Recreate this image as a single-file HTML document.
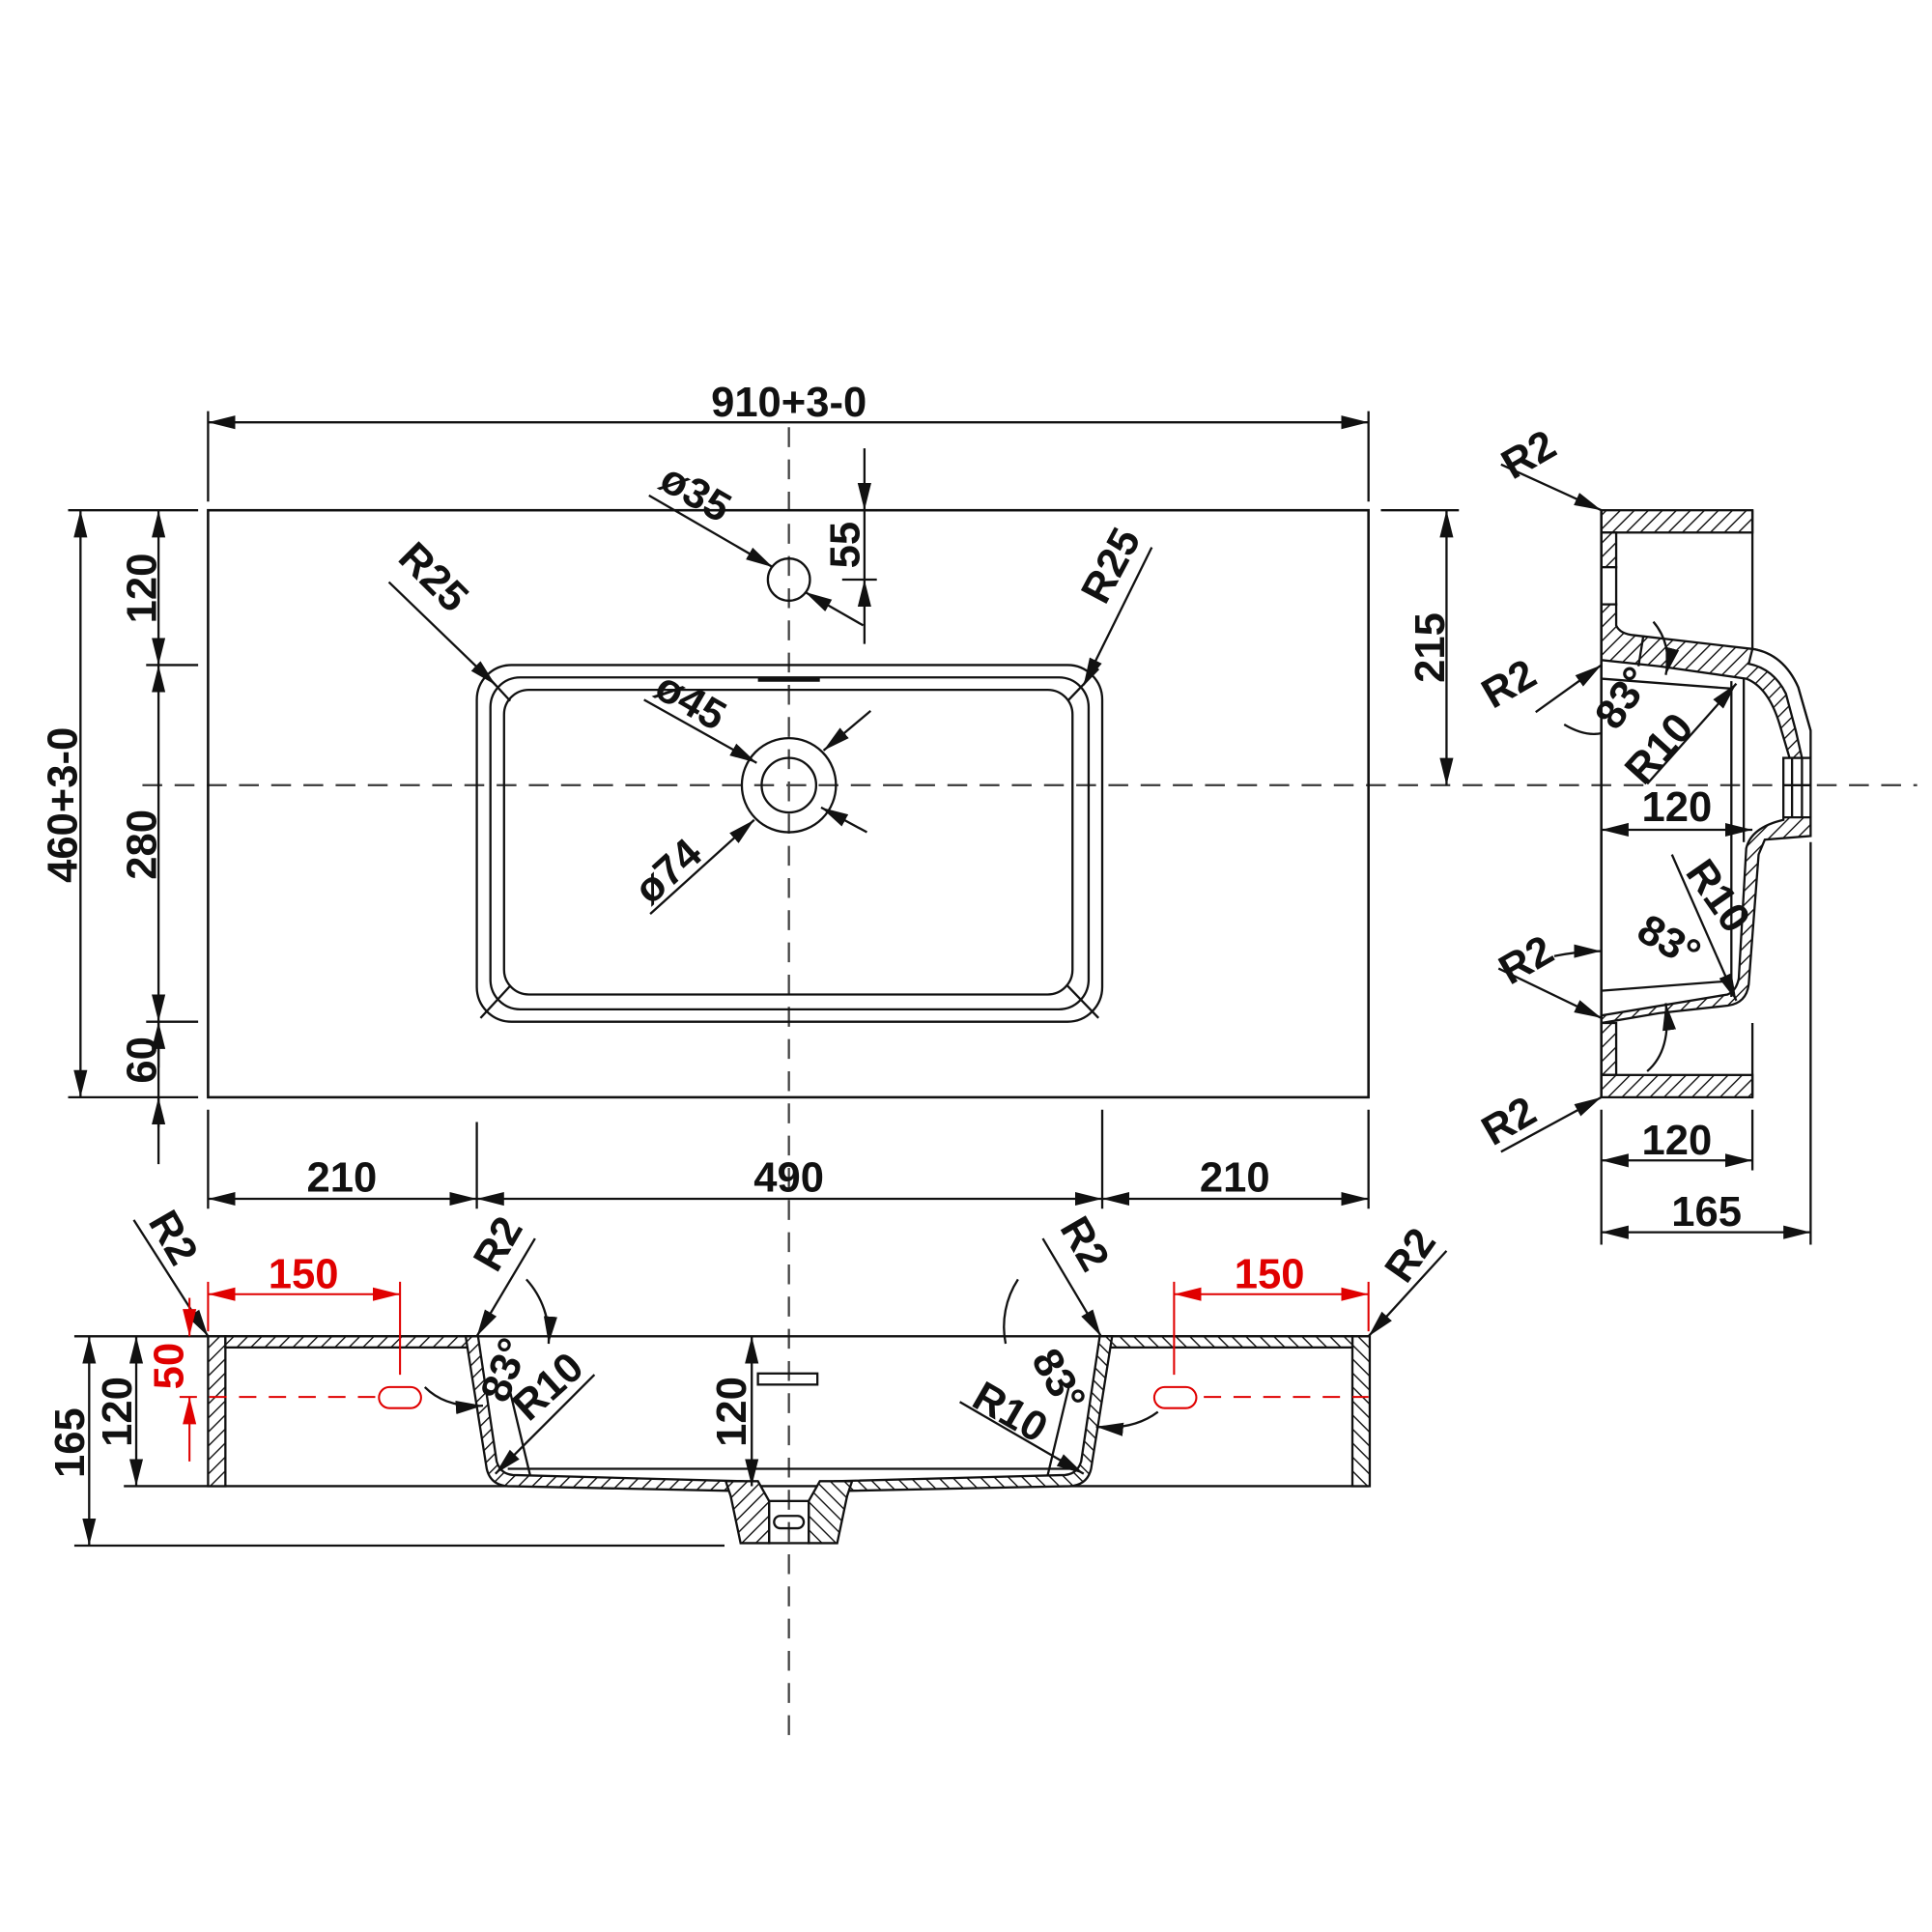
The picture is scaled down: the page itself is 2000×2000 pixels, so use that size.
<!DOCTYPE html>
<html><head><meta charset="utf-8"><style>
html,body{margin:0;padding:0;background:#fff;}
svg{display:block;}
text{font-family:"Liberation Sans Narrow","Liberation Sans",sans-serif;font-weight:bold;font-size:34px;fill:#111;}
.r{fill:#e00000;}
</style></head><body>
<svg width="2000" height="2000" viewBox="0 0 1560 1560" xmlns="http://www.w3.org/2000/svg">
<defs>
<pattern id="h" width="8" height="8" patternUnits="userSpaceOnUse" patternTransform="rotate(45)">
<rect width="8" height="8" fill="#fff"/><line x1="0" y1="0" x2="0" y2="8" stroke="#111" stroke-width="2.2"/></pattern>
<marker id="a" viewBox="0 0 10 10" refX="10" refY="5" markerWidth="22" markerHeight="22" markerUnits="userSpaceOnUse" orient="auto-start-reverse"><path d="M0,2.5 L10,5 L0,7.5z" fill="#111"/></marker>
<marker id="ar" viewBox="0 0 10 10" refX="10" refY="5" markerWidth="22" markerHeight="22" markerUnits="userSpaceOnUse" orient="auto-start-reverse"><path d="M0,2.5 L10,5 L0,7.5z" fill="#e00000"/></marker>
</defs>
<g stroke="#111" stroke-width="1.8" fill="none">
<line x1="637" y1="345" x2="637" y2="1405" stroke-dasharray="16,10" stroke="#444"/>
<line x1="115" y1="634" x2="1548" y2="634" stroke-dasharray="16,10" stroke="#444"/>
<rect x="168" y="412" width="937" height="474" stroke-width="2"/>
<rect x="385" y="537" width="505" height="288" rx="28"/>
<rect x="396" y="547" width="483" height="268" rx="24"/>
<rect x="407" y="557" width="459" height="246" rx="20"/>
<line x1="612" y1="549" x2="662" y2="549" stroke-width="3"/>
<line x1="388" y1="540" x2="412" y2="566"/><line x1="887" y1="540" x2="862" y2="566"/>
<line x1="388" y1="822" x2="412" y2="796"/><line x1="887" y1="822" x2="862" y2="796"/>
<circle cx="637" cy="468" r="17"/>
<circle cx="637" cy="634" r="38"/><circle cx="637" cy="634" r="22"/>
<line x1="168" y1="332" x2="168" y2="405"/><line x1="1105" y1="332" x2="1105" y2="405"/>
<line x1="168" y1="341" x2="1105" y2="341" marker-start="url(#a)" marker-end="url(#a)"/>
<line x1="55" y1="412" x2="160" y2="412"/><line x1="55" y1="886" x2="160" y2="886"/>
<line x1="118" y1="537" x2="160" y2="537"/><line x1="118" y1="825" x2="160" y2="825"/>
<line x1="65" y1="412" x2="65" y2="886" marker-start="url(#a)" marker-end="url(#a)"/>
<line x1="128" y1="412" x2="128" y2="537" marker-start="url(#a)" marker-end="url(#a)"/>
<line x1="128" y1="537" x2="128" y2="825" marker-start="url(#a)" marker-end="url(#a)"/>
<line x1="128" y1="825" x2="128" y2="940"/>
<line x1="128" y1="862" x2="128" y2="825" marker-end="url(#a)"/>
<line x1="128" y1="910" x2="128" y2="886" marker-end="url(#a)"/>
<line x1="1115" y1="412" x2="1178" y2="412"/>
<line x1="1168" y1="412" x2="1168" y2="634" marker-start="url(#a)" marker-end="url(#a)"/>
<line x1="645" y1="412" x2="708" y2="412"/><line x1="680" y1="468" x2="708" y2="468"/>
<line x1="698" y1="362" x2="698" y2="412" marker-end="url(#a)"/>
<line x1="698" y1="520" x2="698" y2="468" marker-end="url(#a)"/>
<line x1="698" y1="412" x2="698" y2="468"/>
<line x1="524" y1="400" x2="624" y2="458" marker-end="url(#a)"/>
<line x1="650" y1="478" x2="697" y2="505" marker-start="url(#a)"/>
<line x1="314" y1="470" x2="400" y2="553" marker-end="url(#a)"/>
<line x1="930" y1="442" x2="875" y2="553" marker-end="url(#a)"/>
<line x1="520" y1="565" x2="611" y2="616" marker-end="url(#a)"/>
<line x1="663" y1="652" x2="700" y2="672" marker-start="url(#a)"/>
<line x1="525" y1="738" x2="609" y2="662" marker-end="url(#a)"/>
<line x1="665" y1="606" x2="703" y2="574" marker-start="url(#a)"/>
<line x1="168" y1="896" x2="168" y2="976"/><line x1="385" y1="906" x2="385" y2="976"/>
<line x1="890" y1="896" x2="890" y2="976"/><line x1="1105" y1="896" x2="1105" y2="976"/>
<line x1="168" y1="968" x2="385" y2="968" marker-start="url(#a)" marker-end="url(#a)"/>
<line x1="385" y1="968" x2="890" y2="968" marker-start="url(#a)" marker-end="url(#a)"/>
<line x1="890" y1="968" x2="1105" y2="968" marker-start="url(#a)" marker-end="url(#a)"/>
</g>
<g>
<text x="637" y="336" text-anchor="middle">910+3-0</text>
<text transform="translate(62,650) rotate(-90)" text-anchor="middle">460+3-0</text>
<text transform="translate(126,475) rotate(-90)" text-anchor="middle">120</text>
<text transform="translate(126,682) rotate(-90)" text-anchor="middle">280</text>
<text transform="translate(126,856) rotate(-90)" text-anchor="middle">60</text>
<text transform="translate(1166,523) rotate(-90)" text-anchor="middle">215</text>
<text transform="translate(694,440) rotate(-90)" text-anchor="middle">55</text>
<text transform="translate(556,408) rotate(30)" text-anchor="middle">ø35</text>
<text transform="translate(342,474) rotate(45)" text-anchor="middle">R25</text>
<text transform="translate(907,462) rotate(-62)" text-anchor="middle">R25</text>
<text transform="translate(552,576) rotate(30)" text-anchor="middle">ø45</text>
<text transform="translate(547,712) rotate(-42)" text-anchor="middle">ø74</text>
<text x="276" y="962" text-anchor="middle">210</text>
<text x="637" y="962" text-anchor="middle">490</text>
<text x="997" y="962" text-anchor="middle">210</text>
</g>

<g stroke="#111" stroke-width="1.8">
<line x1="60" y1="1079" x2="1105" y2="1079" fill="none"/>
<line x1="100" y1="1200" x2="1105" y2="1200" fill="none"/>
<line x1="60" y1="1248" x2="585" y2="1248" fill="none"/>
<g id="half">
<rect x="168" y="1079" width="14" height="121" fill="url(#h)"/>
<rect x="182" y="1079" width="201" height="9" fill="url(#h)"/>
<path d="M376,1079 L386,1079 L401,1180 Q404,1190 414,1191 L600,1196 L600,1204 L410,1200 Q396,1199 393,1186 Z" fill="url(#h)"/>
<path d="M586,1196 L612,1196 L621,1212 L621,1246 L598,1246 L590,1208 Z" fill="url(#h)"/>
<line x1="411" y1="1120" x2="428" y2="1191" fill="none"/>
<line x1="410" y1="1186" x2="637" y2="1186" fill="none"/>
</g>
<use href="#half" transform="translate(1274,0) scale(-1,1)"/>
<rect x="621" y="1212" width="32" height="34" fill="none"/>
<rect x="625" y="1224" width="24" height="10" rx="5" fill="none"/>
<rect x="612" y="1109" width="48" height="9" fill="none"/>
<g fill="none">
<line x1="72" y1="1079" x2="72" y2="1248" marker-start="url(#a)" marker-end="url(#a)"/>
<line x1="110" y1="1079" x2="110" y2="1200" marker-start="url(#a)" marker-end="url(#a)"/>
<line x1="607" y1="1079" x2="607" y2="1200" marker-start="url(#a)" marker-end="url(#a)"/>
<line x1="108" y1="985" x2="168" y2="1079" marker-end="url(#a)"/>
<line x1="432" y1="1000" x2="385" y2="1079" marker-end="url(#a)"/>
<line x1="842" y1="1000" x2="889" y2="1079" marker-end="url(#a)"/>
<line x1="1168" y1="1010" x2="1105" y2="1079" marker-end="url(#a)"/>
<path d="M425,1033 A70,70 0 0 1 443,1085" marker-end="url(#a)"/>
<path d="M343,1120 Q360,1137 390,1135" marker-end="url(#a)"/>
<path d="M822,1033 A70,70 0 0 0 812,1085"/>
<path d="M935,1140 Q915,1155 885,1152" marker-end="url(#a)"/>
<line x1="480" y1="1110" x2="400" y2="1190" marker-end="url(#a)"/>
<line x1="775" y1="1132" x2="875" y2="1190" marker-end="url(#a)"/>
</g>
</g>
<g stroke="#e00000" stroke-width="1.6" fill="none">
<line x1="168" y1="1035" x2="168" y2="1075"/><line x1="323" y1="1035" x2="323" y2="1110"/>
<line x1="168" y1="1045" x2="323" y2="1045" marker-start="url(#ar)" marker-end="url(#ar)"/>
<line x1="948" y1="1035" x2="948" y2="1110"/><line x1="1105" y1="1035" x2="1105" y2="1075"/>
<line x1="948" y1="1045" x2="1105" y2="1045" marker-start="url(#ar)" marker-end="url(#ar)"/>
<line x1="145" y1="1128" x2="323" y2="1128" stroke-dasharray="14,10"/>
<line x1="948" y1="1128" x2="1105" y2="1128" stroke-dasharray="14,10"/>
<rect x="306" y="1120" width="34" height="17" rx="8.5" fill="#fff"/>
<rect x="932" y="1120" width="34" height="17" rx="8.5" fill="#fff"/>
<line x1="153" y1="1048" x2="153" y2="1079" marker-end="url(#ar)"/>
<line x1="153" y1="1180" x2="153" y2="1128" marker-end="url(#ar)"/>
</g>
<g>
<text class="r" x="245" y="1040" text-anchor="middle">150</text>
<text class="r" x="1025" y="1040" text-anchor="middle">150</text>
<text class="r" transform="translate(148,1103) rotate(-90)" text-anchor="middle">50</text>
<text transform="translate(68,1165) rotate(-90)" text-anchor="middle">165</text>
<text transform="translate(106,1140) rotate(-90)" text-anchor="middle">120</text>
<text transform="translate(602,1140) rotate(-90)" text-anchor="middle">120</text>
<text transform="translate(130,1005) rotate(60)" text-anchor="middle">R2</text>
<text transform="translate(412,1010) rotate(-60)" text-anchor="middle">R2</text>
<text transform="translate(866,1010) rotate(60)" text-anchor="middle">R2</text>
<text transform="translate(1148,1020) rotate(-55)" text-anchor="middle">R2</text>
<text transform="translate(418,1110) rotate(-70)" text-anchor="middle">83°</text>
<text transform="translate(450,1128) rotate(-42)" text-anchor="middle">R10</text>
<text transform="translate(845,1120) rotate(60)" text-anchor="middle">83°</text>
<text transform="translate(810,1150) rotate(30)" text-anchor="middle">R10</text>
</g>

<g stroke="#111" stroke-width="1.8">
<rect x="1293" y="412" width="122" height="18" fill="url(#h)"/>
<rect x="1293" y="430" width="12" height="28" fill="url(#h)"/>
<rect x="1293" y="458" width="12" height="30" fill="#fff"/>
<path d="M1293,488 L1305,488 L1305,505 Q1308,512 1320,513 L1415,524 Q1440,528 1452,555 L1462,590 L1462,612 L1445,612 L1437,585 Q1428,555 1410,548 L1340,538 L1293,533 Z" fill="url(#h)"/>
<path d="M1415,524 Q1440,528 1452,555 L1462,590 L1462,612 L1455,612 L1450,590 L1442,560 Q1432,540 1412,536 Z" fill="#fff"/>
<rect x="1440" y="612" width="22" height="48" fill="#fff"/>
<line x1="1447" y1="612" x2="1447" y2="660"/><line x1="1455" y1="612" x2="1455" y2="660"/>
<line x1="1440" y1="634" x2="1462" y2="634"/>
<path d="M1440,660 L1462,660 L1462,675 L1425,678 L1420,690 L1412,795 Q1410,810 1395,812 L1340,818 L1293,826 L1293,820 L1335,813 L1395,803 Q1402,800 1404,790 L1410,685 Q1414,668 1440,662 Z" fill="url(#h)"/>
<rect x="1293" y="826" width="12" height="42" fill="url(#h)"/>
<rect x="1293" y="868" width="122" height="18" fill="url(#h)"/>
<g fill="none">
<line x1="1293" y1="412" x2="1293" y2="886" stroke-width="2"/>
<line x1="1415" y1="412" x2="1415" y2="524"/>
<line x1="1415" y1="826" x2="1415" y2="886"/>
<line x1="1398" y1="550" x2="1398" y2="805"/>
<line x1="1408" y1="548" x2="1408" y2="680"/>
<line x1="1293" y1="548" x2="1398" y2="556"/>
<line x1="1293" y1="800" x2="1398" y2="792"/>
<line x1="1327" y1="513" x2="1323" y2="538"/>
<line x1="1462" y1="680" x2="1462" y2="1005"/>
<line x1="1293" y1="896" x2="1293" y2="1005"/>
<line x1="1415" y1="896" x2="1415" y2="945"/>
<line x1="1293" y1="670" x2="1415" y2="670" marker-start="url(#a)" marker-end="url(#a)"/>
<line x1="1293" y1="937" x2="1415" y2="937" marker-start="url(#a)" marker-end="url(#a)"/>
<line x1="1293" y1="995" x2="1462" y2="995" marker-start="url(#a)" marker-end="url(#a)"/>
<line x1="1212" y1="375" x2="1293" y2="412" marker-end="url(#a)"/>
<line x1="1240" y1="575" x2="1293" y2="537" marker-end="url(#a)"/>
<line x1="1210" y1="782" x2="1293" y2="822" marker-end="url(#a)"/>
<line x1="1212" y1="930" x2="1293" y2="886" marker-end="url(#a)"/>
<path d="M1335,502 A48,48 0 0 1 1345,545" marker-end="url(#a)"/>
<path d="M1263,585 Q1280,595 1293,592"/>
<path d="M1255,772 Q1275,768 1293,768" marker-end="url(#a)"/>
<path d="M1330,865 Q1350,848 1345,810" marker-end="url(#a)"/>
<line x1="1330" y1="633" x2="1402" y2="552" marker-end="url(#a)"/>
<line x1="1350" y1="690" x2="1402" y2="808" marker-end="url(#a)"/>
</g>
</g>
<g>
<text transform="translate(1240,377) rotate(-30)" text-anchor="middle">R2</text>
<text transform="translate(1224,562) rotate(-30)" text-anchor="middle">R2</text>
<text transform="translate(1238,785) rotate(-30)" text-anchor="middle">R2</text>
<text transform="translate(1224,915) rotate(-30)" text-anchor="middle">R2</text>
<text transform="translate(1320,570) rotate(-55)" text-anchor="middle">83°</text>
<text transform="translate(1348,612) rotate(-48)" text-anchor="middle">R10</text>
<text x="1354" y="663" text-anchor="middle">120</text>
<text transform="translate(1378,730) rotate(55)" text-anchor="middle">R10</text>
<text transform="translate(1342,770) rotate(30)" text-anchor="middle">83°</text>
<text x="1354" y="932" text-anchor="middle">120</text>
<text x="1378" y="990" text-anchor="middle">165</text>
</g>
</svg>
</body></html>
